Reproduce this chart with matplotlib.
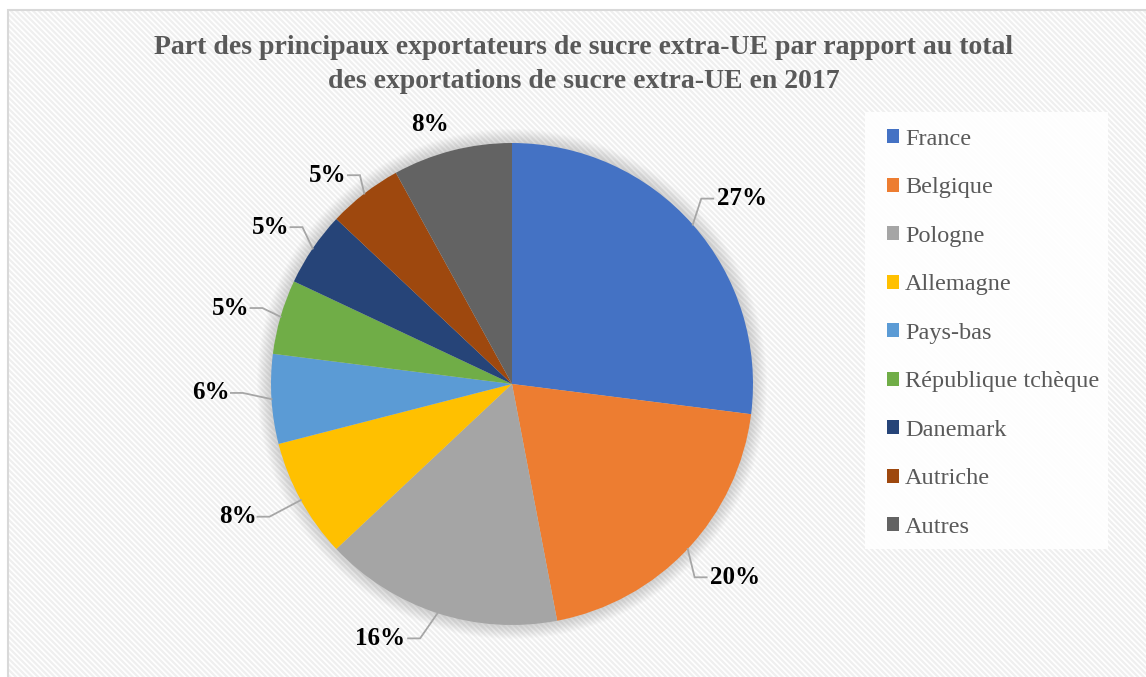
import numpy as np
import matplotlib
matplotlib.use('Agg')
import matplotlib.pyplot as plt
from matplotlib.patches import Rectangle, Circle

# data
countries = ['France', 'Belgique', 'Pologne', 'Allemagne', 'Pays-bas',
             'République tchèque', 'Danemark', 'Autriche', 'Autres']
shares = [27, 20, 16, 8, 6, 5, 5, 5, 8]
colors = ['#4472C4', '#ED7D31', '#A5A5A5', '#FFC000', '#5B9BD5',
          '#70AD47', '#264478', '#9E480E', '#636363']
title_lines = ['Part des principaux exportateurs de sucre extra-UE par rapport au total',
               'des exportations de sucre extra-UE en 2017']

# label placement: (angle nudge in degrees, radius factor, leader line?)
label_layout = [(-2.5, 1.225, True), (2.3, 1.225, True), (-9.5, 1.19, True),
                (-3.0, 1.265, True), (-1.9, 1.25, True), (1.1, 1.21, True),
                (1.2, 1.195, True), (3.6, 1.155, True), (3.2, 1.13, False)]

W, H = 1146, 677
fig = plt.figure(figsize=(W / 100, H / 100), dpi=100)
ax = fig.add_axes([0, 0, 1, 1])
ax.set_xlim(0, W)
ax.set_ylim(0, H)
ax.axis('off')

serif = 'Liberation Serif'

# chart area background with faint diagonal stripes
plt.rcParams['hatch.linewidth'] = 1.6
ax.add_patch(Rectangle((8, -5), W, H - 10 + 5, facecolor='white', edgecolor='#efefef',
                       hatch='\\\\\\\\\\\\', linewidth=0, zorder=0))
ax.add_patch(Rectangle((8, -5), W, H - 10 + 5, facecolor='none', edgecolor='#d9d9d9',
                       linewidth=1.5, zorder=1))

# title
for i, line in enumerate(title_lines):
    ax.text(584, H - 48 - 33 * i, line, ha='center', va='center', fontsize=20,
            fontweight='bold', color='#595959', family=serif, zorder=5)

# pie
cx, cy, R = 512, H - 384, 241
# soft shadow around the pie
for k in range(14):
    ax.add_patch(Circle((cx, cy), R + 14 - k, facecolor='#808080', edgecolor='none',
                        alpha=0.025, zorder=2))
wedges, _ = ax.pie(shares, colors=colors, startangle=90, counterclock=False,
                   center=(cx, cy), radius=R, frame=True,
                   wedgeprops=dict(linewidth=0, zorder=3))
ax.set_xlim(0, W)
ax.set_ylim(0, H)
ax.set_aspect('auto')

# data labels with leader lines
total = sum(shares)
start = 90.0
for val, (nudge, rf, leader) in zip(shares, label_layout):
    sweep = 360.0 * val / total
    mid = start - sweep / 2
    start -= sweep
    a = np.radians(mid + nudge)
    lx, ly = cx + rf * R * np.cos(a), cy + rf * R * np.sin(a)
    txt = f'{val}%'
    ax.text(lx, ly, txt, ha='center', va='center', fontsize=18, fontweight='bold',
            color='black', family=serif, zorder=6)
    if leader:
        m = np.radians(mid)
        px, py = cx + R * np.cos(m), cy + R * np.sin(m)
        side = 1 if np.cos(a) > 0 else -1
        hw = 8.5 * len(txt)
        ex = lx - side * (hw + 3)
        bx = ex - side * 12
        ax.plot([px, bx, ex], [py, ly, ly], color='#a6a6a6', lw=1.3, zorder=4,
                solid_joinstyle='miter')

# legend
ax.add_patch(Rectangle((865, H - 549), 243, 437, facecolor='white', edgecolor='none',
                       alpha=0.88, zorder=4))
leg = ax.legend(wedges, countries, loc='upper left',
                bbox_to_anchor=(887 / W, 1 - 129 / H), bbox_transform=fig.transFigure,
                frameon=False, borderpad=0, borderaxespad=0,
                handlelength=0.5, handleheight=0.5, handletextpad=0.25,
                labelspacing=1.13, prop=dict(family=serif, size=17.5))
for t in leg.get_texts():
    t.set_color('#595959')
for h in leg.legend_handles:
    h.set_edgecolor('none')
leg.set_zorder(7)

fig.savefig('out.png', dpi=100)
